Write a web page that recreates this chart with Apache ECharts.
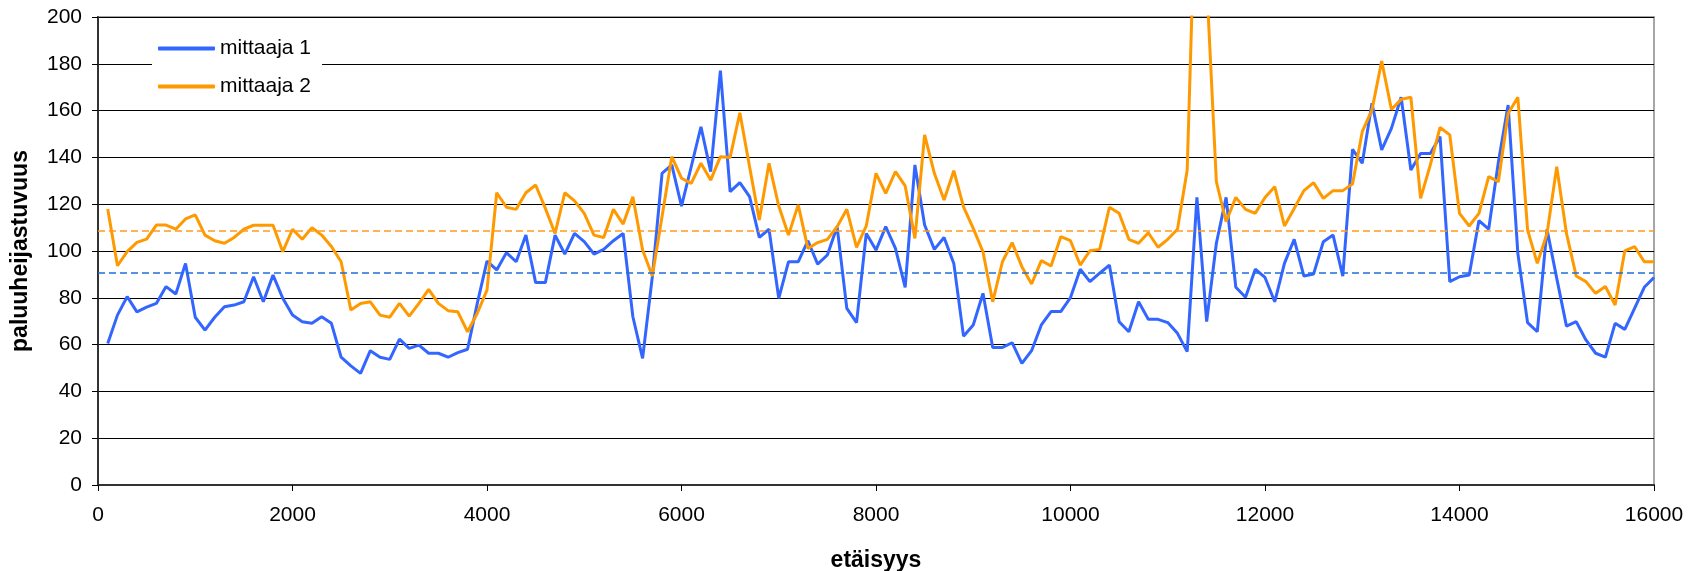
<!DOCTYPE html>
<html>
<head>
<meta charset="utf-8">
<script src="https://cdn.jsdelivr.net/npm/echarts@6.0.0/dist/echarts.min.js"></script>
<style>
  html, body { margin: 0; padding: 0; background: #fff; }
  #chart { width: 1700px; height: 571px; }
</style>
</head>
<body>
<div id="chart"></div>
<script>
// etäisyys (distance) of each sample
var distances = [
  100,200,300,400,500,600,700,800,900,1000,1100,1200,1300,1400,1500,1600,1700,1800,1900,2000,
  2100,2200,2300,2400,2500,2600,2700,2800,2900,3000,3100,3200,3300,3400,3500,3600,3700,3800,3900,4000,
  4100,4200,4300,4400,4500,4600,4700,4800,4900,5000,5100,5200,5300,5400,5500,5600,5700,5800,5900,6000,
  6100,6200,6300,6400,6500,6600,6700,6800,6900,7000,7100,7200,7300,7400,7500,7600,7700,7800,7900,8000,
  8100,8200,8300,8400,8500,8600,8700,8800,8900,9000,9100,9200,9300,9400,9500,9600,9700,9800,9900,10000,
  10100,10200,10300,10400,10500,10600,10700,10800,10900,11000,11100,11200,11300,11400,11500,11600,11700,11800,11900,12000,
  12100,12200,12300,12400,12500,12600,12700,12800,12900,13000,13100,13200,13300,13400,13500,13600,13700,13800,13900,14000,
  14100,14200,14300,14400,14500,14600,14700,14800,14900,15000,15100,15200,15300,15400,15500,15600,15700,15800,15900,16000
];

// mittaaja 1
var mittaaja1 = [
  60.5,72.6,80.5,74,76,77.6,84.8,81.6,94.7,71.7,66.2,71.7,76.2,76.9,78.3,89,78.3,89.7,79.8,72.6,
  69.8,69.1,71.9,69.1,54.6,50.9,47.7,57.4,54.6,53.7,62.3,58.4,59.8,56.3,56.3,54.6,56.6,58,77.6,95.7,
  91.9,99.3,95.4,106.8,86.5,86.5,106.8,98.7,107.5,104,98.7,100.7,104.4,107.5,71.9,54.1,89,133.2,136.8,119.2,
  136,153.1,133.9,177.1,125.4,129.2,123.2,105.8,109.3,79.8,95.4,95.4,104.4,94.4,98.3,110.4,75.5,69.4,107.5,100.4,
  110.4,101.1,84.5,136.8,111.1,100.7,105.8,94.7,63.6,68.4,81.9,58.8,58.8,60.8,52,57.4,68.4,74.1,74.1,80.1,
  92.2,86.9,90.5,94,69.8,65.5,78.3,70.8,70.8,69.4,64.8,57,122.9,69.8,103.3,122.9,84.5,80.2,92.2,88.7,
  78.3,94.7,105,89.3,90.2,104,106.8,89.3,143.4,137.5,163.1,143.2,152.4,165.7,134.6,141.7,141.7,148.9,86.9,89,
  89.7,113,109.3,138,162.4,99,69.4,65.5,109.3,88.3,67.9,69.8,62,56.3,54.6,69.1,66.5,75.5,84.5,88.7
];

// mittaaja 2
var mittaaja2 = [
  118,93.7,99.7,103.7,105.1,111.1,111.1,109.3,113.7,115.4,106.8,104.4,103.3,105.8,109.3,111,111,111,99.7,109.3,
  105,110,106.8,101.9,95.4,74.8,77.6,78.3,72.6,71.7,77.6,72.2,77.6,83.6,77.6,74.5,74,65.5,73.4,83.3,
  124.9,118.7,117.8,124.9,128.2,118.2,107.5,124.9,121.4,116.1,106.8,105.8,117.8,111.5,123.2,100.4,89.3,114.7,140.3,131.1,
  128.9,137.5,130.3,140.3,140,159.1,136,113.2,137.5,119.2,106.8,119.7,101.1,103.6,105,110.4,117.8,101.6,110.7,133.2,
  124.6,133.9,127.8,105.4,149.6,133.2,121.8,134.3,118.9,109.7,99.7,78.3,95.4,103.6,93.3,85.9,95.9,93.6,106.1,104.4,
  94,100.1,100.7,118.7,116.1,105,103.3,107.8,101.6,105,109.3,134.6,275,215,129.6,112.5,122.9,117.8,116.1,122.9,
  127.5,110.7,118.2,125.8,129.2,122.5,125.8,125.8,128.6,151,160.3,181.2,160.5,164.8,165.7,122.5,136.8,152.8,149.6,116.1,
  110.7,116.1,131.8,129.6,158.8,165.7,109,94.7,107.5,136,107.5,89.3,86.9,81.9,84.8,76.9,100.1,101.9,95.4,95.4
];

// dashed average levels
var keskiarvo1 = 90.9;
var keskiarvo2 = 108.8;

var font = "'Liberation Sans', Arial, sans-serif";

function pairs(vals) {
  var out = [];
  for (var i = 0; i < vals.length; i++) {
    out.push([distances[i], vals[i]]);
  }
  return out;
}

var chart = echarts.init(document.getElementById('chart'));
chart.setOption({
  animation: false,
  backgroundColor: '#fff',
  textStyle: { fontFamily: font, color: '#000' },
  grid: {
    left: 98, right: 46, top: 17, bottom: 86,
    outerBoundsMode: 'none',
    containLabel: false,
    show: true,
    borderColor: '#a6a6a6',
    borderWidth: 2
  },
  legend: {
    orient: 'vertical',
    left: 152,
    top: 33,
    padding: [5, 11, 5, 6],
    itemGap: 17,
    itemWidth: 57,
    itemHeight: 4,
    icon: 'roundRect',
    backgroundColor: '#fff',
    textStyle: { fontSize: 21, color: '#000', fontFamily: font, lineHeight: 21 },
    data: ['mittaaja 1', 'mittaaja 2']
  },
  xAxis: {
    type: 'value',
    min: 0,
    max: 16000,
    interval: 2000,
    name: 'etäisyys',
    nameLocation: 'middle',
    nameGap: 64,
    nameTextStyle: { fontSize: 23, fontWeight: 'bold', color: '#000', fontFamily: font },
    axisLine: { show: true, lineStyle: { color: '#333', width: 2 } },
    axisTick: { show: true, length: 6, lineStyle: { color: '#000' } },
    axisLabel: {
      fontSize: 21, color: '#000', margin: 20, fontFamily: font,
      formatter: function (v) { return String(v); }
    },
    splitLine: { show: false }
  },
  yAxis: {
    type: 'value',
    min: 0,
    max: 200,
    interval: 20,
    name: 'paluuheijastuvuus',
    nameLocation: 'middle',
    nameGap: 66,
    nameMoveOverlap: false,
    nameTextStyle: { fontSize: 23, fontWeight: 'bold', color: '#000', fontFamily: font },
    axisLine: { show: true, lineStyle: { color: '#333', width: 2 } },
    axisTick: { show: true, length: 6, lineStyle: { color: '#000' } },
    axisLabel: { fontSize: 21, color: '#000', margin: 16, fontFamily: font },
    splitLine: { show: true, lineStyle: { color: '#000', width: 1 } }
  },
  series: [
    {
      name: 'mittaaja 1',
      type: 'line',
      data: pairs(mittaaja1),
      symbol: 'none',
      color: '#3366ff',
      lineStyle: { width: 3, color: '#3366ff' },
      markLine: {
        silent: true,
        symbol: 'none',
        label: { show: false },
        lineStyle: { type: [7, 4], width: 1.5, color: '#1f6fd8' },
        data: [{ yAxis: keskiarvo1 }]
      }
    },
    {
      name: 'mittaaja 2',
      type: 'line',
      data: pairs(mittaaja2),
      symbol: 'none',
      color: '#ff9900',
      lineStyle: { width: 3, color: '#ff9900' },
      markLine: {
        silent: true,
        symbol: 'none',
        label: { show: false },
        lineStyle: { type: [7, 4], width: 1.5, color: '#ff9a1f' },
        data: [{ yAxis: keskiarvo2 }]
      }
    }
  ]
});
</script>
</body>
</html>
